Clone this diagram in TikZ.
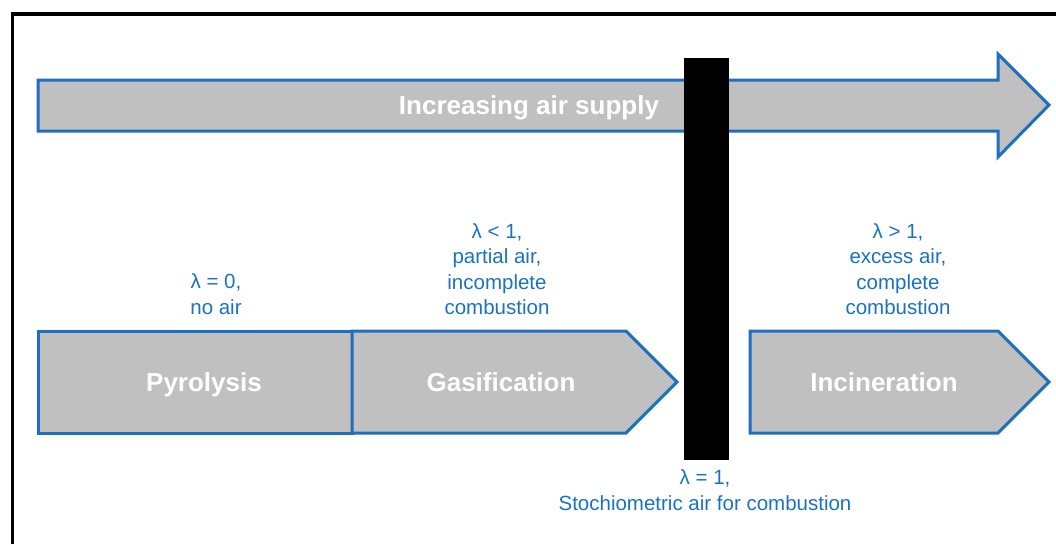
\documentclass[tikz,border=0pt]{standalone}
\usepackage{fontspec}
\setmainfont{Liberation Sans}
\definecolor{rimblue}{HTML}{1F6FBF}
\definecolor{txtblue}{HTML}{1A72C2}
\definecolor{boxgray}{HTML}{C0C0C0}
\tikzset{
  stage/.style={draw=rimblue, fill=boxgray, line width=3pt, line join=miter},
  stagetext/.style={text=white, font=\fontsize{26}{30}\selectfont\bfseries},
  lambdatext/.style={text=txtblue, align=center, font=\fontsize{20.5}{25.5}\selectfont}
}

\begin{document}
\begin{tikzpicture}[x=1pt, y=-1pt]
  \useasboundingbox (0,0) rectangle (1056,544);

  % Frame
  \draw[line width=3.5pt] (12.5,544) -- (12.5,14) -- (1056,14);

  % Air supply arrow
  \draw[stage] (38,80) -- (998,80) -- (998,54) -- (1049,105) -- (998,157)
    -- (998,131) -- (38,131) -- cycle;
  \node[stagetext] (supply) at (529,108) {Increasing air supply};

  % Stage shapes
  \draw[stage] (38,331) rectangle (352,433);
  \draw[stage] (352,331) -- (626,331) -- (677,382) -- (626,433) -- (352,433) -- cycle;
  \draw[stage] (750,331) -- (998,331) -- (1049,382) -- (998,433) -- (750,433) -- cycle;

  \node[stagetext] (pyro) at (204,385) {Pyrolysis};
  \node[stagetext] (gasi) at (501,382) {Gasification};
  \node[stagetext] (inci) at (884,382) {Incineration};

  % Stoichiometric barrier
  \fill[black] (684,58) rectangle (729,460);

  % Lambda labels
  \node[lambdatext] (noair) at (216,294) {λ = 0,\\no air};
  \node[lambdatext] (partial) at (497,269) {λ < 1,\\partial air,\\incomplete\\combustion};
  \node[lambdatext] (excess) at (898,269) {λ > 1,\\excess air,\\complete\\combustion};
  \node[lambdatext] (stoich) at (705,490) {λ = 1,\\Stochiometric air for combustion};
\end{tikzpicture}
\end{document}
